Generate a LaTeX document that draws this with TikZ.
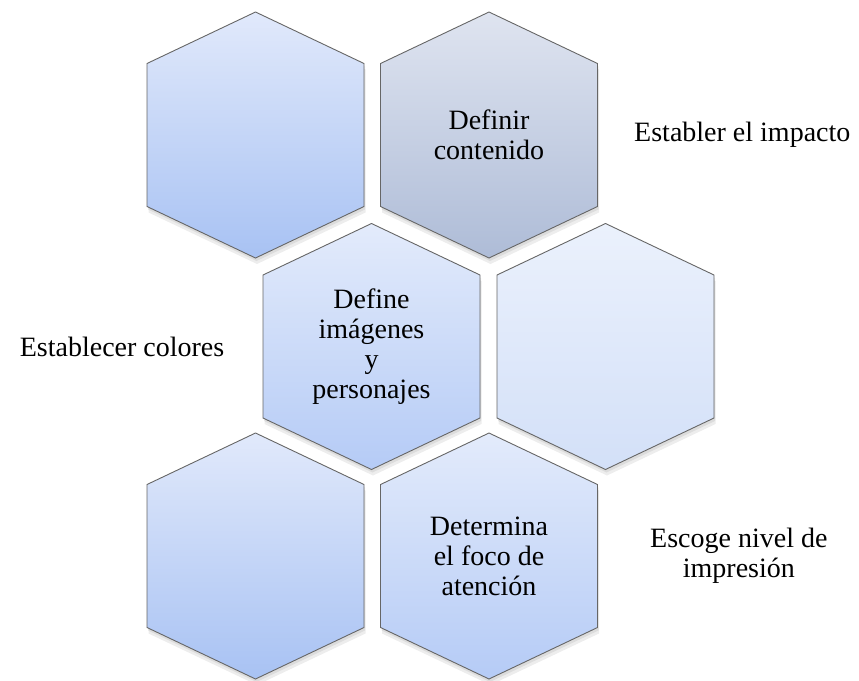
\documentclass[tikz,border=0pt]{standalone}
\usepackage{fontspec}
\setmainfont{Liberation Serif}
\usetikzlibrary{positioning}

\definecolor{cellA top}{HTML}{E1E9FB}
\definecolor{cellA bot}{HTML}{A8C2F3}
\definecolor{cellB top}{HTML}{DFE4F0}
\definecolor{cellB bot}{HTML}{AEBCD7}
\definecolor{cellC top}{HTML}{E3EBFB}
\definecolor{cellC bot}{HTML}{B5CBF6}
\definecolor{cellD top}{HTML}{EBF1FC}
\definecolor{cellD bot}{HTML}{D3E0F8}

\newcommand\cellfont{\fontsize{28}{30}\selectfont}

\tikzset{
  every picture/.style = {
    x = 1pt,
    y = -1pt,
    node distance = 35pt,
  }
  ,
  hex border/.style = {
    draw = black!60,
    line width = 0.9pt
  }
  ,
  hex shadow/.style = {
    fill = black,
    opacity = 0.07
  }
  , % text inside the cells
  hex text/.style = {
    font = \cellfont,
    align = center,
    minimum width = 217pt,
    minimum height = 246pt
  }
  , % captions beside the cells
  side label/.style = {
    font = \cellfont,
    align = center
  }
  ,
  pics/hexcell/.style n args = {3}{
    code = {
      \fill[hex shadow, shift={(1,3)}] (0,-123) -- (108.5,-71.5) -- (108.5,71.5) -- (0,123) -- (-108.5,71.5) -- (-108.5,-71.5) -- cycle;
      \fill[hex shadow, shift={(1.5,6)}] (0,-123) -- (108.5,-71.5) -- (108.5,71.5) -- (0,123) -- (-108.5,71.5) -- (-108.5,-71.5) -- cycle;
      \shade[top color=#1, bottom color=#2, hex border] (0,-123) -- (108.5,-71.5) -- (108.5,71.5) -- (0,123) -- (-108.5,71.5) -- (-108.5,-71.5) -- cycle;
      \node[hex text] (-c) {#3};
    }
  }
}

\begin{document}
\begin{tikzpicture}
\useasboundingbox (0,0) rectangle (859,680);

\pic (h1) at (255.5,135) {hexcell={cellA top}{cellA bot}{}};
\pic (h2) at (489,135) {hexcell={cellB top}{cellB bot}{Definir\\contenido}};
\pic (h3) at (371.5,346.5) {hexcell={cellC top}{cellC bot}{Define\\imágenes\\y\\personajes}};
\pic (h4) at (605.5,346.5) {hexcell={cellD top}{cellD bot}{}};
\pic (h5) at (255.5,556) {hexcell={cellA top}{cellA bot}{}};
\pic (h6) at (489,556) {hexcell={cellC top}{cellC bot}{Determina\\el foco de\\atención}};

\node [side label, right = 33pt of h2-c] (impacto) {Establer el impacto};
\node [side label, left = 35pt of h3-c] (colores) {Establecer colores};
\node [side label, right = 49pt of h6-c] (nivel) {Escoge nivel de\\impresión};
\end{tikzpicture}
\end{document}
